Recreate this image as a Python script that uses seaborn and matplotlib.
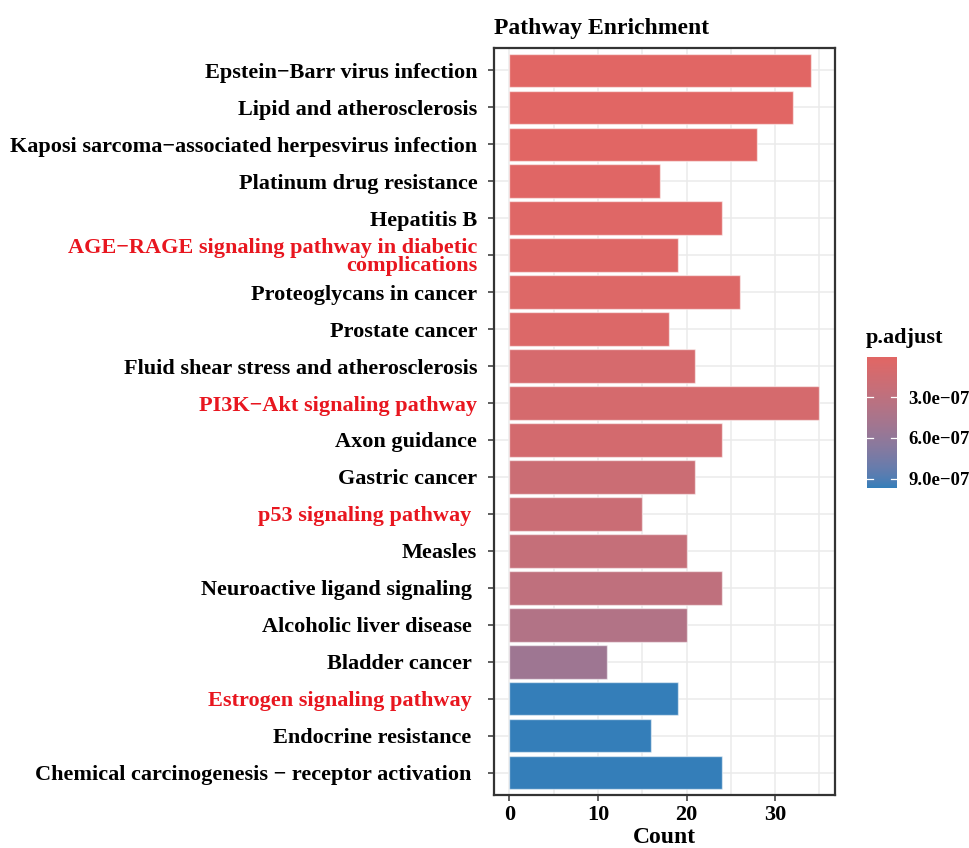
import numpy as np
import pandas as pd
import matplotlib
matplotlib.use("Agg")
import matplotlib.pyplot as plt
from matplotlib.colors import ListedColormap, Normalize
import matplotlib.cm as cm
import seaborn as sns

MINUS = "\u2212"

# Enriched pathways, top to bottom
descriptions = [
    f"Epstein{MINUS}Barr virus infection",
    "Lipid and atherosclerosis",
    f"Kaposi sarcoma{MINUS}associated herpesvirus infection",
    "Platinum drug resistance",
    "Hepatitis B",
    f"AGE{MINUS}RAGE signaling pathway in diabetic\ncomplications",
    "Proteoglycans in cancer",
    "Prostate cancer",
    "Fluid shear stress and atherosclerosis",
    f"PI3K{MINUS}Akt signaling pathway",
    "Axon guidance",
    "Gastric cancer",
    "p53 signaling pathway ",
    "Measles",
    "Neuroactive ligand signaling ",
    "Alcoholic liver disease ",
    "Bladder cancer ",
    "Estrogen signaling pathway ",
    "Endocrine resistance ",
    f"Chemical carcinogenesis {MINUS} receptor activation ",
]
counts = [34, 32, 28, 17, 24, 19, 26, 18, 21, 35, 24, 21, 15, 20, 24, 20, 11, 19, 16, 24]
p_adjust = [1.0e-9, 3.0e-9, 5.0e-9, 1.5e-8, 2.0e-8, 3.0e-8, 4.0e-8, 4.5e-8,
            1.0e-7, 1.1e-7, 1.2e-7, 1.9e-7, 2.0e-7, 2.4e-7, 2.9e-7, 3.9e-7,
            5.2e-7, 9.7e-7, 9.7e-7, 9.7e-7]
highlighted = [f"AGE{MINUS}RAGE signaling pathway in diabetic\ncomplications",
               f"PI3K{MINUS}Akt signaling pathway",
               "p53 signaling pathway ",
               "Estrogen signaling pathway "]
cbar_ticks = [3.0e-7, 6.0e-7, 9.0e-7]
cbar_labels = [f"3.0e{MINUS}07", f"6.0e{MINUS}07", f"9.0e{MINUS}07"]

LOW_COLOR = "#E16664"
HIGH_COLOR = "#347EB9"
HL_COLOR = "#E8161F"


# --- gradient interpolated in CIE Lab space ---
def _srgb_to_lab(rgb):
    rgb = np.asarray(rgb, float)
    lin = np.where(rgb <= 0.04045, rgb / 12.92, ((rgb + 0.055) / 1.055) ** 2.4)
    M = np.array([[0.4124, 0.3576, 0.1805],
                  [0.2126, 0.7152, 0.0722],
                  [0.0193, 0.1192, 0.9505]])
    xyz = M @ lin
    white = np.array([0.95047, 1.0, 1.08883])
    t = xyz / white
    f = np.where(t > (6 / 29) ** 3, np.cbrt(t), t / (3 * (6 / 29) ** 2) + 4 / 29)
    return np.array([116 * f[1] - 16, 500 * (f[0] - f[1]), 200 * (f[1] - f[2])])


def _lab_to_srgb(lab):
    L, a, b = lab
    fy = (L + 16) / 116
    fx = fy + a / 500
    fz = fy - b / 200
    f = np.array([fx, fy, fz])
    t = np.where(f > 6 / 29, f ** 3, 3 * (6 / 29) ** 2 * (f - 4 / 29))
    white = np.array([0.95047, 1.0, 1.08883])
    xyz = t * white
    Minv = np.array([[3.2406, -1.5372, -0.4986],
                     [-0.9689, 1.8758, 0.0415],
                     [0.0557, -0.2040, 1.0570]])
    lin = Minv @ xyz
    lin = np.clip(lin, 0, 1)
    rgb = np.where(lin <= 0.0031308, 12.92 * lin, 1.055 * lin ** (1 / 2.4) - 0.055)
    return np.clip(rgb, 0, 1)


lab_lo = _srgb_to_lab(matplotlib.colors.to_rgb(LOW_COLOR))
lab_hi = _srgb_to_lab(matplotlib.colors.to_rgb(HIGH_COLOR))
grad = [_lab_to_srgb(lab_lo + (lab_hi - lab_lo) * s) for s in np.linspace(0, 1, 256)]
cmap = ListedColormap(grad)
norm = Normalize(vmin=min(p_adjust), vmax=max(p_adjust))

df = pd.DataFrame({"Description": descriptions, "Count": counts, "p.adjust": p_adjust})
palette = {d: cmap(norm(p)) for d, p in zip(descriptions, p_adjust)}

plt.rcParams["font.family"] = ["Liberation Serif", "DejaVu Serif"]
plt.rcParams["font.weight"] = "bold"

fig = plt.figure(figsize=(9.7, 8.48), dpi=100)
ax = fig.add_axes([494 / 970, 1 - 795 / 848, (835 - 494) / 970, (795 - 48) / 848])

sns.barplot(data=df, x="Count", y="Description", hue="Description", palette=palette,
            order=descriptions, dodge=False, legend=False, width=0.9, saturation=1,
            edgecolor=(1, 1, 1, 0.55), linewidth=1.0, ax=ax, zorder=3)

ax.set_xlim(-1.75, 36.75)
ax.set_ylim(len(descriptions) - 0.4, -0.6)
ax.set_xticks([0, 10, 20, 30])
ax.set_xticks([5, 15, 25, 35], minor=True)
ax.set_facecolor("white")
ax.grid(True, which="major", color="#EBEBEB", linewidth=1.1, zorder=0)
ax.grid(True, which="minor", axis="x", color="#EBEBEB", linewidth=1.1, zorder=0)
ax.set_axisbelow(True)
for s in ax.spines.values():
    s.set_color("#333333")
    s.set_linewidth(1.6)

ax.tick_params(axis="both", which="major", length=4, width=1.1, color="#333333",
               labelsize=16, labelcolor="black")
ax.tick_params(axis="y", pad=8)
ax.tick_params(axis="x", pad=3)
ax.tick_params(which="minor", length=0)
for lbl in ax.get_yticklabels():
    lbl.set_fontweight("bold")
    lbl.set_linespacing(0.88)
    if lbl.get_text() in highlighted:
        lbl.set_color(HL_COLOR)
for lbl in ax.get_xticklabels():
    lbl.set_fontweight("bold")

ax.set_ylabel("")
ax.set_xlabel("Count", fontsize=17, fontweight="bold", labelpad=1.5)
ax.set_title("Pathway Enrichment", fontsize=17, fontweight="bold", loc="left", pad=10)

# colour bar legend
cax = fig.add_axes([867 / 970, 1 - 488 / 848, 30 / 970, (488 - 357) / 848])
sm = cm.ScalarMappable(norm=norm, cmap=cmap)
cb = fig.colorbar(sm, cax=cax)
cb.outline.set_visible(False)
cb.set_ticks(cbar_ticks)
cb.set_ticklabels(cbar_labels)
cax.invert_yaxis()
cax.tick_params(length=0, pad=8, labelsize=13.5)
for lbl in cax.get_yticklabels():
    lbl.set_fontweight("bold")
for t in cbar_ticks:
    cax.plot([0, 0.2], [t, t], color="white", lw=0.9, transform=cax.get_yaxis_transform())
    cax.plot([0.8, 1.0], [t, t], color="white", lw=0.9, transform=cax.get_yaxis_transform())
fig.text(866 / 970, 1 - 338 / 848, "p.adjust", fontsize=16, fontweight="bold",
         ha="left", va="center")

fig.savefig("out.png", dpi=100, facecolor="white")
